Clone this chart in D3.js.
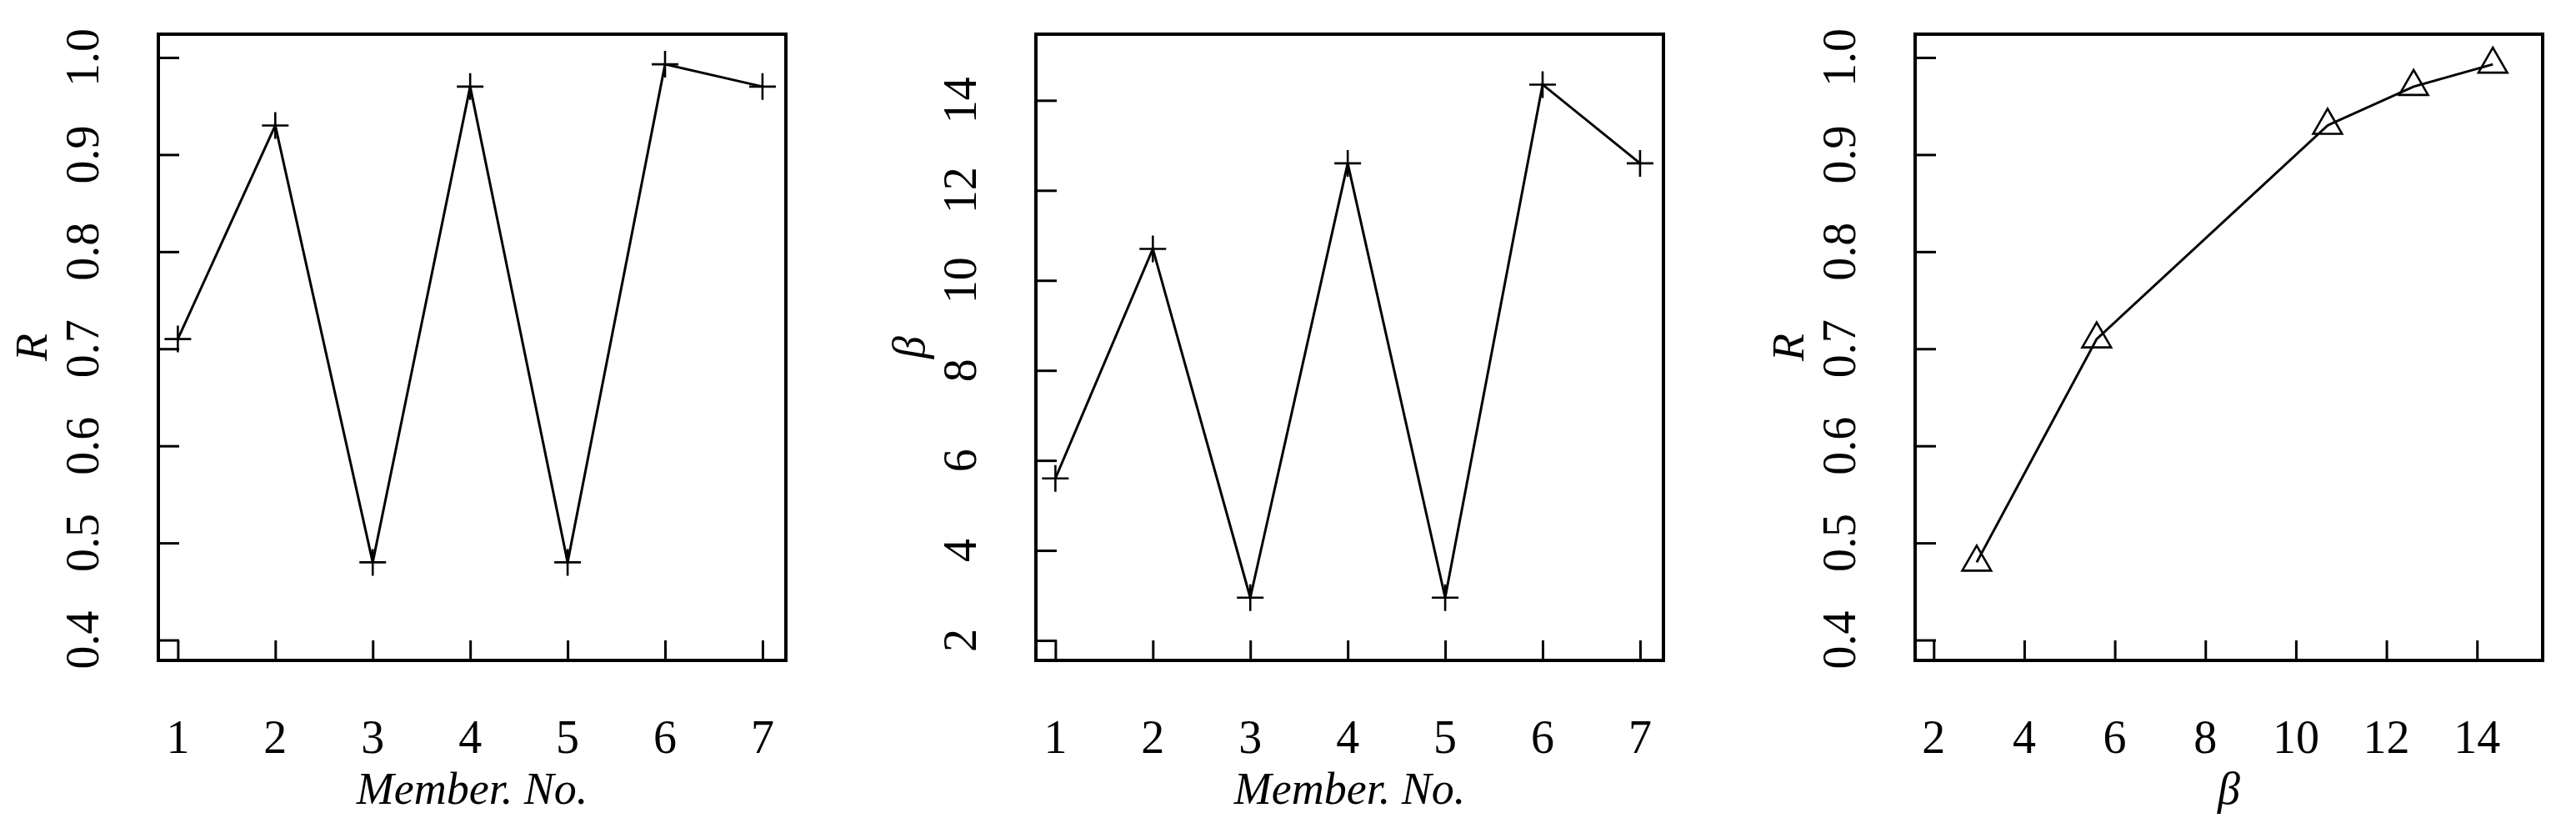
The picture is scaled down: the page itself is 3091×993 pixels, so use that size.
<!DOCTYPE html>
<html>
<head>
<meta charset="utf-8">
<script src="https://cdn.jsdelivr.net/npm/d3@7"></script>
<style>
  body { margin: 0; background: #fff; }
  text { font-family: "Liberation Serif", "Times New Roman", serif; fill: #000; }
</style>
</head>
<body>
<svg id="chart"></svg>
<script>
// data
const memberNo   = [1, 2, 3, 4, 5, 6, 7];
const rValues    = [0.71, 0.93, 0.48, 0.97, 0.48, 0.993, 0.97];
const betaValues = [5.6, 10.7, 2.95, 12.6, 2.95, 14.35, 12.6];

// third panel: R against beta, ordered by beta
const betaOrdered = [2.95, 5.6, 10.7, 12.6, 14.35];
const rOrdered    = [0.48, 0.71, 0.93, 0.97, 0.993];

const memberTicks = [1, 2, 3, 4, 5, 6, 7];
const rTicks      = [0.4, 0.5, 0.6, 0.7, 0.8, 0.9, 1.0];
const betaTicks   = [2, 4, 6, 8, 10, 12, 14];

const W = 3091, H = 993;
const plotTop = 41, plotBottom = 792, boxW = 753;
const tickFont = 56, titleFont = 54;

const svg = d3.select("#chart")
    .attr("width", W)
    .attr("height", H);

svg.append("rect").attr("width", W).attr("height", H).attr("fill", "#fff");

function plusPath() { return "M-16,0H16M0,-16V16"; }
const trianglePath = d3.symbol().type(d3.symbolTriangle2).size(860)();

function drawPanel(p) {
    let x = d3.scaleLinear().domain(p.xDomain).range([p.left, p.left + boxW]);
    let y = d3.scaleLinear().domain(p.yDomain).range([plotBottom, plotTop]);

    let g = svg.append("g");

    // inward ticks, R style
    let xAxis = d3.axisBottom(x).tickValues(p.xTicks).tickSize(-24).tickFormat("");
    let yAxis = d3.axisLeft(y).tickValues(p.yTicks).tickSize(-25).tickFormat("");

    let xg = g.append("g").attr("transform", "translate(0," + plotBottom + ")").call(xAxis);
    let yg = g.append("g").attr("transform", "translate(" + p.left + ",0)").call(yAxis);
    [xg, yg].forEach(a => {
        a.select(".domain").remove();
        a.selectAll("line").attr("stroke", "#000").attr("stroke-width", 3);
    });

    g.append("rect")
        .attr("x", p.left).attr("y", plotTop)
        .attr("width", boxW).attr("height", plotBottom - plotTop)
        .attr("fill", "none").attr("stroke", "#000").attr("stroke-width", 4);

    // tick labels
    g.selectAll(".xl").data(p.xTicks).enter().append("text")
        .attr("x", d => x(d))
        .attr("y", plotBottom + 111)
        .attr("text-anchor", "middle")
        .attr("font-size", tickFont)
        .text(d => p.xFmt(d));

    g.selectAll(".yl").data(p.yTicks).enter().append("text")
        .attr("transform", d => "translate(" + (p.left - 72) + "," + y(d) + ") rotate(-90)")
        .attr("text-anchor", "middle")
        .attr("font-size", tickFont)
        .text(d => p.yFmt(d));

    // axis titles
    g.append("text")
        .attr("x", p.left + boxW / 2)
        .attr("y", plotBottom + 172)
        .attr("text-anchor", "middle")
        .attr("font-size", titleFont)
        .attr("font-style", "italic")
        .text(p.xTitle);

    g.append("text")
        .attr("transform", "translate(" + (p.left - 134) + "," + ((plotTop + plotBottom) / 2) + ") rotate(-90)")
        .attr("text-anchor", "middle")
        .attr("font-size", titleFont)
        .attr("font-style", "italic")
        .text(p.yTitle);

    let line = d3.line()
        .x((d, i) => x(p.xs[i]))
        .y((d, i) => y(p.ys[i]));

    g.append("path")
        .datum(p.xs)
        .attr("d", line)
        .attr("fill", "none")
        .attr("stroke", "#000")
        .attr("stroke-width", 3);

    g.selectAll(".pt").data(p.xs).enter().append("path")
        .attr("transform", (d, i) => "translate(" + x(p.xs[i]) + "," + y(p.ys[i]) + ")")
        .attr("d", p.marker)
        .attr("fill", "none")
        .attr("stroke", "#000")
        .attr("stroke-width", 2.6);
}

const fmt1 = d3.format(".1f");
const fmt0 = d => String(d);

drawPanel({
    left: 190, xDomain: [0.8, 7.24], yDomain: [0.379, 1.024],
    xs: memberNo, ys: rValues, marker: plusPath(),
    xTicks: memberTicks, yTicks: rTicks, xFmt: fmt0, yFmt: fmt1,
    xTitle: "Member. No.", yTitle: "R"
});

drawPanel({
    left: 1243, xDomain: [0.8, 7.24], yDomain: [1.556, 15.47],
    xs: memberNo, ys: betaValues, marker: plusPath(),
    xTicks: memberTicks, yTicks: betaTicks, xFmt: fmt0, yFmt: fmt0,
    xTitle: "Member. No.", yTitle: "β"
});

drawPanel({
    left: 2298, xDomain: [1.59, 15.45], yDomain: [0.379, 1.024],
    xs: betaOrdered, ys: rOrdered, marker: trianglePath,
    xTicks: betaTicks, yTicks: rTicks, xFmt: fmt0, yFmt: fmt1,
    xTitle: "β", yTitle: "R"
});
</script>
</body>
</html>
